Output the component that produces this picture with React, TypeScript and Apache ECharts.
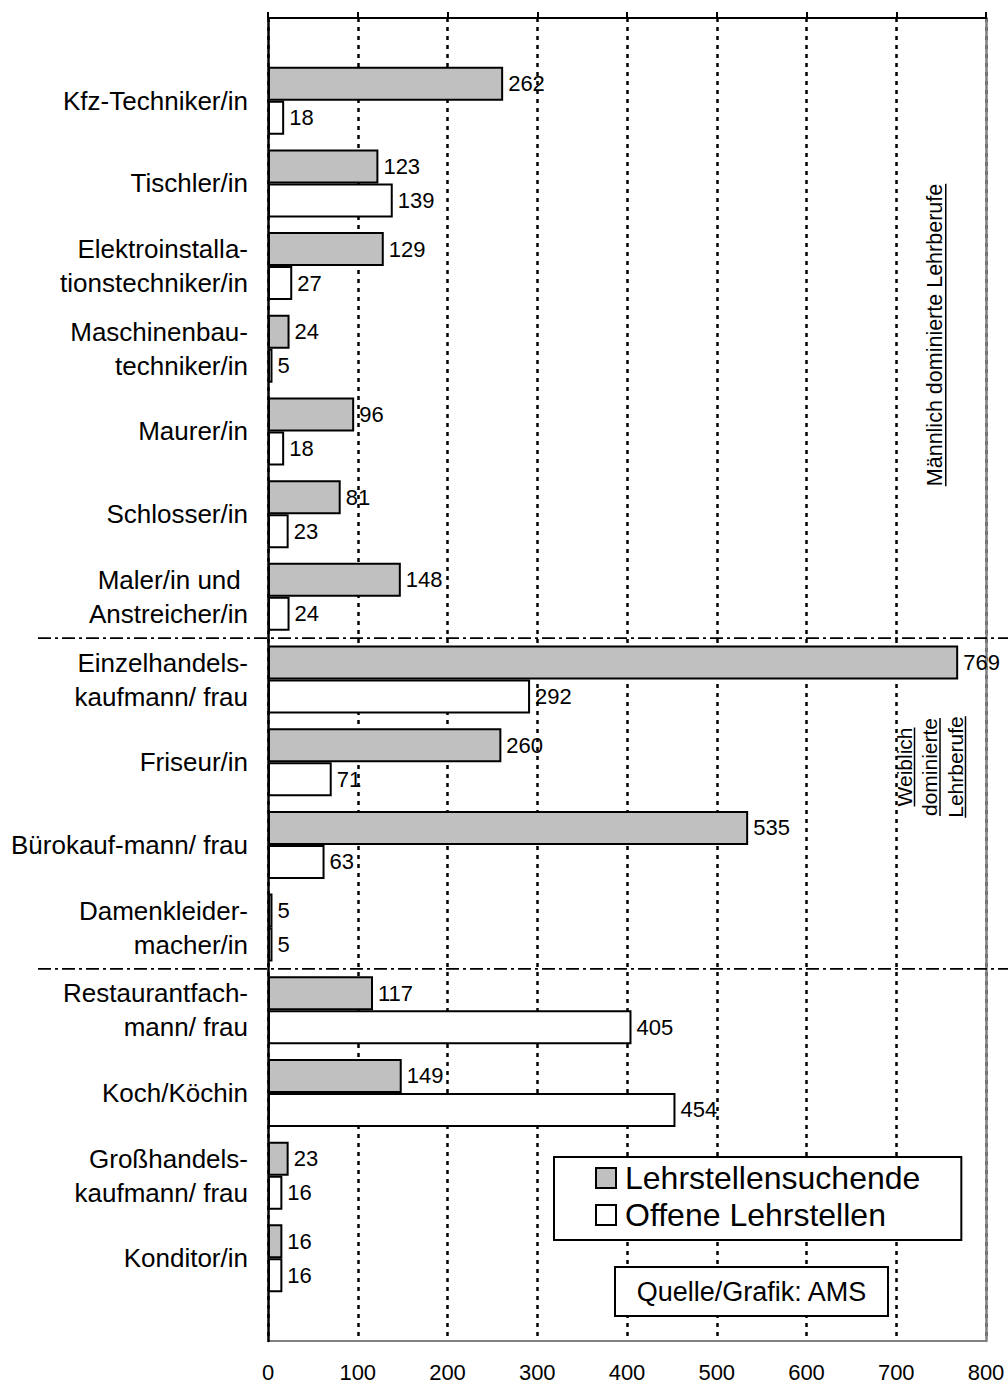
import React, { useEffect, useRef } from "react";
import * as echarts from "echarts";

const FONT = '"Liberation Sans", Arial, sans-serif';

const categories = [
  "Kfz-Techniker/in",
  "Tischler/in",
  "Elektroinstalla-\ntionstechniker/in",
  "Maschinenbau-\ntechniker/in",
  "Maurer/in",
  "Schlosser/in",
  "Maler/in und \nAnstreicher/in",
  "Einzelhandels-\nkaufmann/ frau",
  "Friseur/in",
  "Bürokauf-mann/ frau",
  "Damenkleider-\nmacher/in",
  "Restaurantfach-\nmann/ frau",
  "Koch/Köchin",
  "Großhandels-\nkaufmann/ frau",
  "Konditor/in",
];

const seekers = [262, 123, 129, 24, 96, 81, 148, 769, 260, 535, 5, 117, 149, 23, 16];
const openPositions = [18, 139, 27, 5, 18, 23, 24, 292, 71, 63, 5, 405, 454, 16, 16];

const seriesNames = ["Lehrstellensuchende", "Offene Lehrstellen"];
const xTicks = { min: 0, max: 800, interval: 100 };

// group separators are drawn after these categories
const separatorAfter = ["Maler/in und \nAnstreicher/in", "Damenkleider-\nmacher/in"];

const maleLabel = ["Männlich dominierte Lehrberufe"];
const femaleLabel = ["Weiblich", "dominierte", "Lehrberufe"];
const sourceText = "Quelle/Grafik: AMS";

function measure(text: string, size: number): number {
  const c = document.createElement("canvas").getContext("2d");
  if (!c) return text.length * size * 0.5;
  c.font = `${size}px ${FONT}`;
  return c.measureText(text).width;
}

function verticalLabel(lines: string[], cx: number, cy: number, size: number, gap: number) {
  const children: any[] = [];
  const n = lines.length;
  lines.forEach((t, i) => {
    const ly = (i - (n - 1) / 2) * gap;
    const w = measure(t, size);
    children.push({
      type: "text",
      x: 0,
      y: ly,
      style: {
        text: t,
        fontSize: size,
        fontFamily: FONT,
        fill: "#000",
        align: "center",
        verticalAlign: "middle",
      },
    });
    children.push({
      type: "line",
      shape: { x1: -w / 2, y1: ly + size * 0.5, x2: w / 2, y2: ly + size * 0.5 },
      style: { stroke: "#000", lineWidth: 1.5 },
    });
  });
  return { type: "group", x: cx, y: cy, rotation: Math.PI / 2, z: 50, children };
}

export default function App() {
  const ref = useRef<HTMLDivElement>(null);

  useEffect(() => {
    if (!ref.current) return;
    const chart = echarts.init(ref.current, undefined, { renderer: "svg" });
    const cats = ["", ...categories, ""];
    const pad = (arr: number[]) => [null, ...arr, null];

    const valueLabel = {
      show: true,
      position: "right",
      distance: 5,
      fontSize: 22,
      color: "#000",
      fontFamily: FONT,
    };

    chart.setOption({
      animation: false,
      textStyle: { fontFamily: FONT },
      grid: { left: 268, right: 22, top: 18, bottom: 46, containLabel: false },
      xAxis: [
        {
          type: "value",
          position: "bottom",
          ...xTicks,
          axisLine: { show: true, lineStyle: { color: "#808080", width: 2 } },
          axisTick: { show: false },
          axisLabel: { fontSize: 22, margin: 20, color: "#000", fontFamily: FONT },
          splitLine: { show: true, lineStyle: { color: "#000", width: 2.5, type: [4, 5] } },
        },
        {
          type: "value",
          position: "top",
          ...xTicks,
          axisLine: { show: true, lineStyle: { color: "#000", width: 2 } },
          axisTick: { show: true, length: 6, lineStyle: { color: "#000", width: 2 } },
          axisLabel: { show: false },
          splitLine: { show: false },
        },
      ],
      yAxis: [
        {
          type: "category",
          data: cats,
          inverse: true,
          boundaryGap: false,
          z: 5,
          axisLine: { show: true, onZero: false, lineStyle: { color: "#000", width: 2.5 } },
          axisTick: { show: false },
          axisLabel: {
            interval: 0,
            fontSize: 26,
            lineHeight: 34,
            color: "#000",
            margin: 20,
            fontFamily: FONT,
            align: "right",
          },
          splitLine: { show: false },
        },
        {
          type: "category",
          data: cats,
          inverse: true,
          boundaryGap: false,
          position: "right",
          axisLine: { show: true, onZero: false, lineStyle: { color: "#808080", width: 2.5 } },
          axisTick: { show: false },
          axisLabel: { show: false },
          splitLine: { show: false },
        },
      ],
      legend: {
        show: true,
        orient: "vertical",
        left: 554,
        top: 1157,
        padding: [5, 41, 9, 41],
        itemGap: 5,
        itemWidth: 20,
        itemHeight: 20,
        icon: "rect",
        borderColor: "#000",
        borderWidth: 2,
        borderRadius: 0,
        backgroundColor: "#fff",
        z: 20,
        textStyle: { fontSize: 32, color: "#000", fontFamily: FONT, padding: [0, 0, 0, 4] },
        data: seriesNames,
      },
      series: [
        {
          name: seriesNames[0],
          type: "bar",
          xAxisIndex: 0,
          yAxisIndex: 0,
          data: pad(seekers),
          barWidth: 34,
          barGap: "0%",
          itemStyle: { color: "#C0C0C0", borderColor: "#000", borderWidth: 2 },
          label: valueLabel,
        },
        {
          name: seriesNames[1],
          type: "bar",
          xAxisIndex: 0,
          yAxisIndex: 0,
          data: pad(openPositions),
          barWidth: 34,
          barGap: "0%",
          itemStyle: { color: "#FFFFFF", borderColor: "#000", borderWidth: 2 },
          label: valueLabel,
        },
      ],
    });

    const graphics: any[] = [];
    separatorAfter.forEach((name) => {
      const i = cats.indexOf(name);
      const y1 = chart.convertToPixel({ yAxisIndex: 0 }, i) as number;
      const y2 = chart.convertToPixel({ yAxisIndex: 0 }, i + 1) as number;
      const y = (y1 + y2) / 2;
      graphics.push({
        type: "line",
        z: 30,
        shape: { x1: 38, y1: y, x2: 1008, y2: y },
        style: { stroke: "#000", lineWidth: 1.8, lineDash: [13, 4, 3, 4] },
      });
    });

    graphics.push(verticalLabel(maleLabel, 935, 335, 21.5, 26));
    graphics.push(verticalLabel(femaleLabel, 929.5, 767, 21, 25.5));

    graphics.push({
      type: "group",
      z: 40,
      children: [
        {
          type: "rect",
          shape: { x: 615, y: 1267, width: 273, height: 49 },
          style: { fill: "#fff", stroke: "#000", lineWidth: 2 },
        },
        {
          type: "text",
          x: 751.5,
          y: 1292,
          style: {
            text: sourceText,
            fontSize: 27,
            fontFamily: FONT,
            fill: "#000",
            align: "center",
            verticalAlign: "middle",
          },
        },
      ],
    });

    chart.setOption({ graphic: graphics });

    return () => chart.dispose();
  }, []);

  return (
    <div
      ref={ref}
      style={{ position: "fixed", left: 0, top: 0, width: 1008, height: 1387, background: "#fff" }}
    />
  );
}
